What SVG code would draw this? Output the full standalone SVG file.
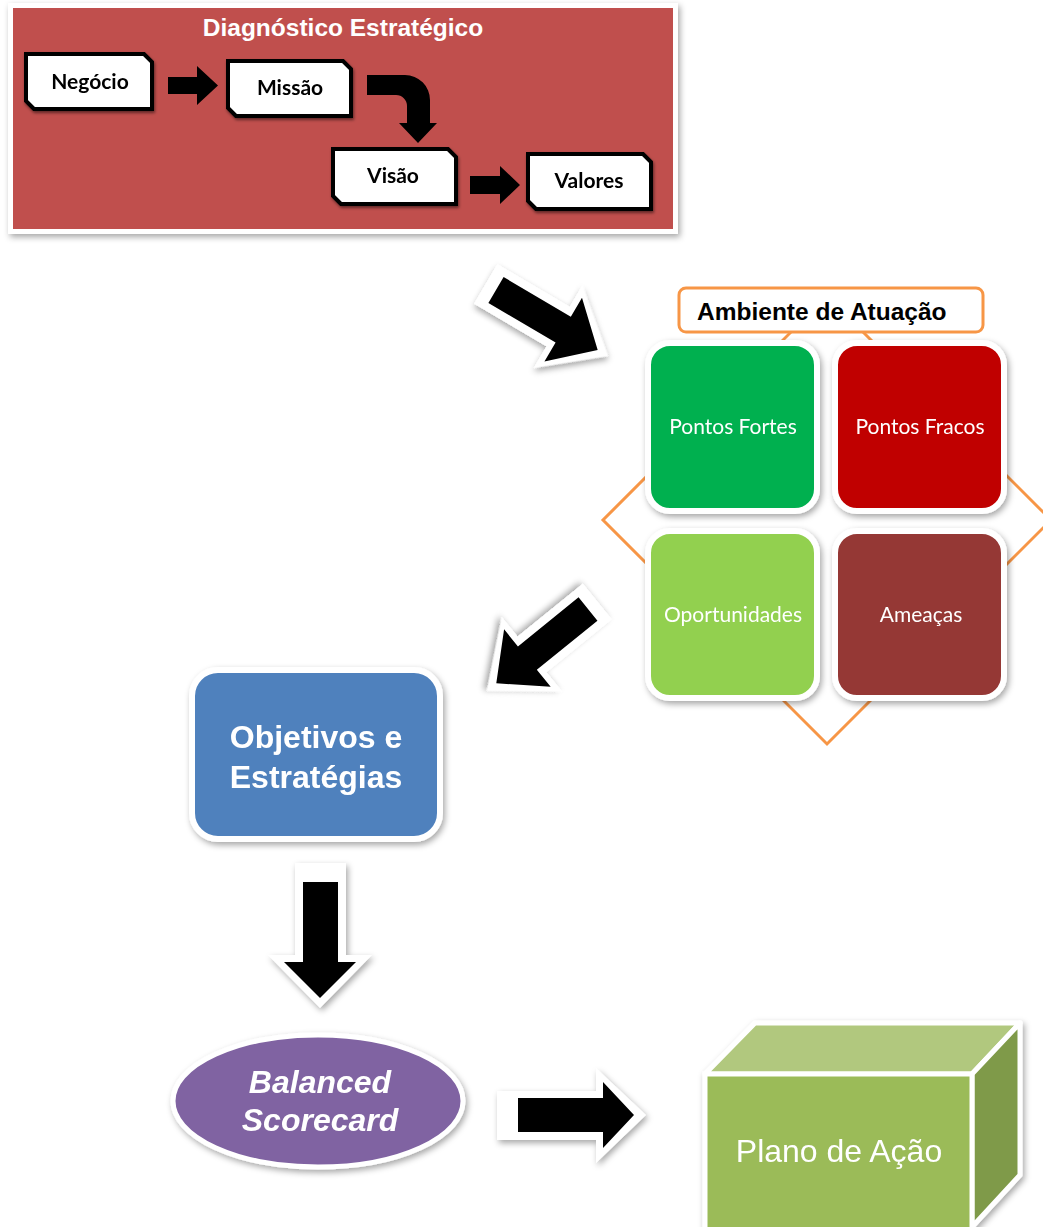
<svg xmlns="http://www.w3.org/2000/svg" width="1043" height="1227" viewBox="0 0 1043 1227">
<defs>
<filter id="sh" x="-20%" y="-20%" width="140%" height="140%">
<feDropShadow dx="2" dy="3" stdDeviation="3" flood-color="#000" flood-opacity="0.35"/>
</filter>
<filter id="sh2" x="-20%" y="-20%" width="140%" height="140%">
<feDropShadow dx="1" dy="2" stdDeviation="1.5" flood-color="#000" flood-opacity="0.5"/>
</filter>
<style>
.step{fill:#fff;stroke:#000;stroke-width:4;stroke-linejoin:miter}
.stepT{font-family:Lato,"Liberation Sans",sans-serif;font-weight:bold;font-size:21px;fill:#000;text-anchor:middle}
.sq{stroke:#fff;stroke-width:6}
.sqT{font-family:Lato,"Open Sans",sans-serif;font-size:21px;fill:#fff;text-anchor:middle}
.blk{fill:#000}
.wht{fill:#fff}
.big{font-family:"Liberation Sans",Arial,sans-serif;font-weight:bold;font-size:32px;fill:#fff;text-anchor:middle}
</style>
</defs>
<rect width="1043" height="1227" fill="#fff"/>

<g id="diagnostico">
<rect x="10.5" y="5.5" width="665" height="226" fill="#C0504D" stroke="#fff" stroke-width="5" filter="url(#sh)"/>
<text x="343" y="36" font-family="Liberation Sans,Arial,sans-serif" font-weight="bold" font-size="24.5" fill="#fff" text-anchor="middle">Diagnóstico Estratégico</text>
</g>

<g id="negocio" filter="url(#sh2)">
<path class="step" d="M26,54 H144 L152,62 V109 H34 L26,101 Z"/>
<text class="stepT" x="90" y="89">Negócio</text>
</g>
<g id="missao" filter="url(#sh2)">
<path class="step" d="M228,61 H343 L351,69 V116 H236 L228,108 Z"/>
<text class="stepT" x="290" y="95">Missão</text>
</g>
<g id="visao" filter="url(#sh2)">
<path class="step" d="M333,149 H448 L456,157 V204 H341 L333,196 Z"/>
<text class="stepT" x="393" y="183">Visão</text>
</g>
<g id="valores" filter="url(#sh2)">
<path class="step" d="M528,154 H643 L651,162 V209 H536 L528,201 Z"/>
<text class="stepT" x="589" y="188">Valores</text>
</g>

<g id="diamond">
<polygon points="827,296 1051,520 827,744 603,520" fill="none" stroke="#F79646" stroke-width="3"/>
</g>

<g id="ambiente">
<rect x="679" y="288" width="304" height="44" rx="7" fill="#fff" stroke="#F79646" stroke-width="3"/>
<text x="697" y="320" font-family="Liberation Sans,Arial,sans-serif" font-weight="bold" font-size="24.5" fill="#000">Ambiente de Atuação</text>
</g>

<g id="pontos-fortes" filter="url(#sh)">
<rect class="sq" x="648" y="343" width="169" height="168" rx="22" fill="#00B050"/>
<text class="sqT" x="733" y="434">Pontos Fortes</text>
</g>
<g id="pontos-fracos" filter="url(#sh)">
<rect class="sq" x="835" y="343" width="169" height="168" rx="22" fill="#C00000"/>
<text class="sqT" x="920" y="434">Pontos Fracos</text>
</g>
<g id="oportunidades" filter="url(#sh)">
<rect class="sq" x="648" y="531" width="169" height="167" rx="22" fill="#92D050"/>
<text class="sqT" x="733" y="622">Oportunidades</text>
</g>
<g id="ameacas" filter="url(#sh)">
<rect class="sq" x="835" y="531" width="169" height="167" rx="22" fill="#953735"/>
<text class="sqT" x="921" y="622">Ameaças</text>
</g>

<g id="objetivos" filter="url(#sh)">
<rect x="192" y="670" width="248" height="169" rx="26" fill="#4F81BD" stroke="#fff" stroke-width="6"/>
<text class="big" x="316" y="748">Objetivos e</text>
<text class="big" x="316" y="788">Estratégias</text>
</g>

<g id="bsc" filter="url(#sh)">
<ellipse cx="318" cy="1101" rx="145" ry="66" fill="#8064A2" stroke="#fff" stroke-width="5"/>
<text class="big" x="320" y="1093" font-style="italic">Balanced</text>
<text class="big" x="320" y="1131" font-style="italic">Scorecard</text>
</g>

<g id="plano" filter="url(#sh)">
<polygon points="705,1074 755,1023 1020,1023 972,1074" fill="#B1C87E" stroke="#fff" stroke-width="5" stroke-linejoin="round"/>
<polygon points="972,1074 1020,1023 1020,1175 972,1227" fill="#7F9A48" stroke="#fff" stroke-width="5" stroke-linejoin="round"/>
<rect x="705" y="1074" width="267" height="160" fill="#9BBB59" stroke="#fff" stroke-width="5"/>
<text x="839" y="1162" font-family="Liberation Sans,Arial,sans-serif" font-size="32" fill="#fff" text-anchor="middle">Plano de Ação</text>
</g>

<g id="connectors">
<polygon class="blk" points="168,77 197,77 197,66 218,85.5 197,105 197,94 168,94"/>
<path class="blk" d="M367,75 H405 A25,25 0 0 1 430,100 V123 H437 L418,143 L399,123 H407 V106 A11,11 0 0 0 396,95 H367 Z"/>
<polygon class="blk" points="470,176 500,176 500,166 520,185 500,204 500,194 470,194"/>

<g transform="translate(496,290) rotate(30.5)">
<polygon class="wht" filter="url(#sh)" points="-12,-23 72,-23 72,-48 130,0 72,48 72,23 -12,23"/>
<polygon class="blk" points="0,-15 78,-15 78,-37 118,0 78,37 78,15 0,15"/>
</g>
<g transform="translate(588,609) rotate(141)">
<polygon class="wht" filter="url(#sh)" points="-12,-23 72,-23 72,-48 130,0 72,48 72,23 -12,23"/>
<polygon class="blk" points="0,-15 78,-15 78,-37 118,0 78,37 78,15 0,15"/>
</g>
<g>
<polygon class="wht" filter="url(#sh)" points="295,863 346,863 346,955 372,955 320,1008 268,955 295,955"/>
<polygon class="blk" points="303,882 338,882 338,962 356,962 320,998 284,962 303,962"/>
</g>
<g>
<polygon class="wht" filter="url(#sh)" points="497,1091 596,1091 596,1068 646,1115 596,1163 596,1140 497,1140"/>
<polygon class="blk" points="518,1098 603,1098 603,1082 634,1115 603,1148 603,1132 518,1132"/>
</g>
</g>
</svg>
